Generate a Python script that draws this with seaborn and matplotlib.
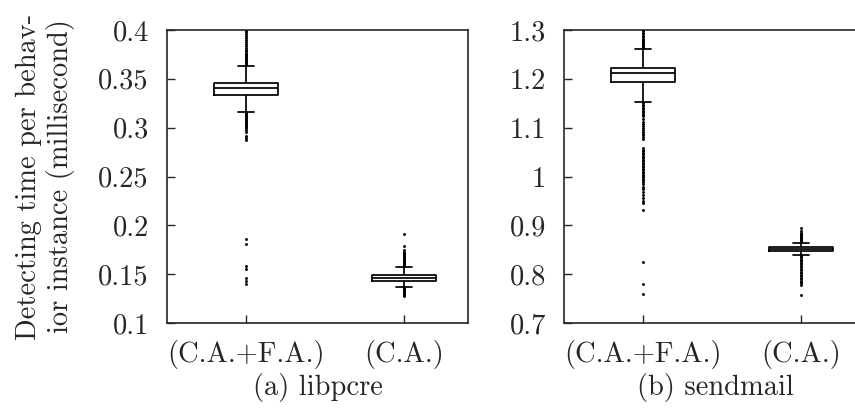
import numpy as np
import pandas as pd
import matplotlib
matplotlib.use("Agg")
import matplotlib.pyplot as plt
from matplotlib.ticker import FuncFormatter
import seaborn as sns

categories = ["(C.A.+F.A.)", "(C.A.)"]

# five-number summaries: lower whisker, q1, median, q3, upper whisker
libpcre_cafa_box = [0.316, 0.3338, 0.3406, 0.3454, 0.363]
libpcre_ca_box = [0.1366, 0.143, 0.146, 0.1488, 0.157]
sendmail_cafa_box = [1.153, 1.1935, 1.2113, 1.2215, 1.261]
sendmail_ca_box = [0.840, 0.848, 0.852, 0.856, 0.8645]

# outliers
libpcre_cafa_out = [0.364, 0.365, 0.366, 0.367, 0.368, 0.369, 0.370, 0.371, 0.372,
                    0.373, 0.374, 0.375, 0.376, 0.378, 0.380, 0.382, 0.384, 0.386,
                    0.388, 0.390, 0.392, 0.394, 0.396, 0.398, 0.399,
                    0.315, 0.314, 0.313, 0.312, 0.311, 0.310, 0.309, 0.308, 0.307,
                    0.306, 0.305, 0.304, 0.303, 0.302, 0.301, 0.300, 0.298, 0.296,
                    0.291, 0.289, 0.287, 0.186, 0.181, 0.158, 0.155, 0.146, 0.143, 0.140]
libpcre_ca_out = [0.158, 0.159, 0.160, 0.161, 0.162, 0.163, 0.164, 0.165, 0.166,
                  0.167, 0.168, 0.169, 0.170, 0.171, 0.172, 0.173, 0.175, 0.179, 0.191,
                  0.136, 0.135, 0.134, 0.133, 0.132, 0.131, 0.130, 0.129, 0.128]
sendmail_cafa_out = [1.263, 1.266, 1.268, 1.270, 1.272, 1.274, 1.276, 1.278, 1.280,
                     1.282, 1.285, 1.288, 1.291, 1.294, 1.297, 1.299,
                     1.150, 1.147, 1.144, 1.141, 1.138, 1.135, 1.132, 1.129, 1.126,
                     1.123, 1.118, 1.112, 1.108, 1.104, 1.100, 1.096, 1.092, 1.088,
                     1.084, 1.080, 1.076, 1.058, 1.055, 1.052, 1.049, 1.046, 1.043,
                     1.040, 1.037, 1.034, 1.031, 1.028, 1.025, 1.022, 1.019, 1.016,
                     1.013, 1.010, 1.007, 1.004, 1.001, 0.998, 0.995, 0.992, 0.989,
                     0.984, 0.979, 0.974, 0.968, 0.962, 0.956, 0.950, 0.945, 0.931,
                     0.824, 0.779, 0.759]
sendmail_ca_out = [0.866, 0.868, 0.870, 0.872, 0.874, 0.876, 0.878, 0.880, 0.882,
                   0.884, 0.889, 0.894,
                   0.838, 0.835, 0.832, 0.829, 0.826, 0.823, 0.820, 0.817, 0.814,
                   0.811, 0.808, 0.805, 0.802, 0.799, 0.796, 0.793, 0.790, 0.787,
                   0.784, 0.781, 0.778, 0.757]

panels = [
    ("(a) libpcre", libpcre_cafa_box, libpcre_ca_box, libpcre_cafa_out, libpcre_ca_out,
     (0.1, 0.4), np.arange(0.1, 0.4001, 0.05)),
    ("(b) sendmail", sendmail_cafa_box, sendmail_ca_box, sendmail_cafa_out, sendmail_ca_out,
     (0.7, 1.3), np.arange(0.7, 1.3001, 0.1)),
]

sns.set_style("ticks")
plt.rcParams["font.family"] = ["cmr10", "DejaVu Serif"]
plt.rcParams["axes.formatter.use_mathtext"] = True
plt.rcParams["xtick.direction"] = "in"
plt.rcParams["ytick.direction"] = "in"
FS = 20.5

fig = plt.figure(figsize=(8.55, 4.08), dpi=100)
lefts = [167 / 855, 564 / 855]

for (title, box_a, box_b, out_a, out_b, ylim, yticks), left in zip(panels, lefts):
    ax = fig.add_axes([left, 85 / 408, 301 / 855, 293 / 408])
    box_df = pd.DataFrame({"group": [categories[0]] * len(box_a) + [categories[1]] * len(box_b),
                           "value": box_a + box_b})
    out_df = pd.DataFrame({"group": [categories[0]] * len(out_a) + [categories[1]] * len(out_b),
                           "value": out_a + out_b})
    sns.boxplot(data=box_df, x="group", y="value", order=categories, whis=np.inf,
                width=0.4, fill=False, color="black", linewidth=1.25,
                capwidths=0.1, ax=ax)
    sns.stripplot(data=out_df, x="group", y="value", order=categories, jitter=False,
                  size=2.1, color="black", linewidth=0, ax=ax)
    ax.set_xlim(-0.5, 1.405)
    ax.set_ylim(*ylim)
    ax.set_yticks(yticks)
    ax.yaxis.set_major_formatter(FuncFormatter(lambda v, p: "%g" % round(v, 3)))
    ax.set_xlabel("")
    ax.set_ylabel("")
    ax.tick_params(axis="both", labelsize=FS, length=6, width=1.0)
    ax.tick_params(axis="y", pad=13)
    ax.tick_params(axis="x", pad=12)
    for s in ax.spines.values():
        s.set_linewidth(1.2)
        s.set_visible(True)
    fig.text(left + 0.177, 1 - 388 / 408, title, ha="center", va="center", fontsize=FS)

fig.text(0.053, 1 - 176.5 / 408, "Detecting time per behav-\nior instance (millisecond)",
         rotation=90, ha="center", va="center", fontsize=FS, linespacing=1.15,
         multialignment="center")

fig.savefig("out.png", dpi=100)
